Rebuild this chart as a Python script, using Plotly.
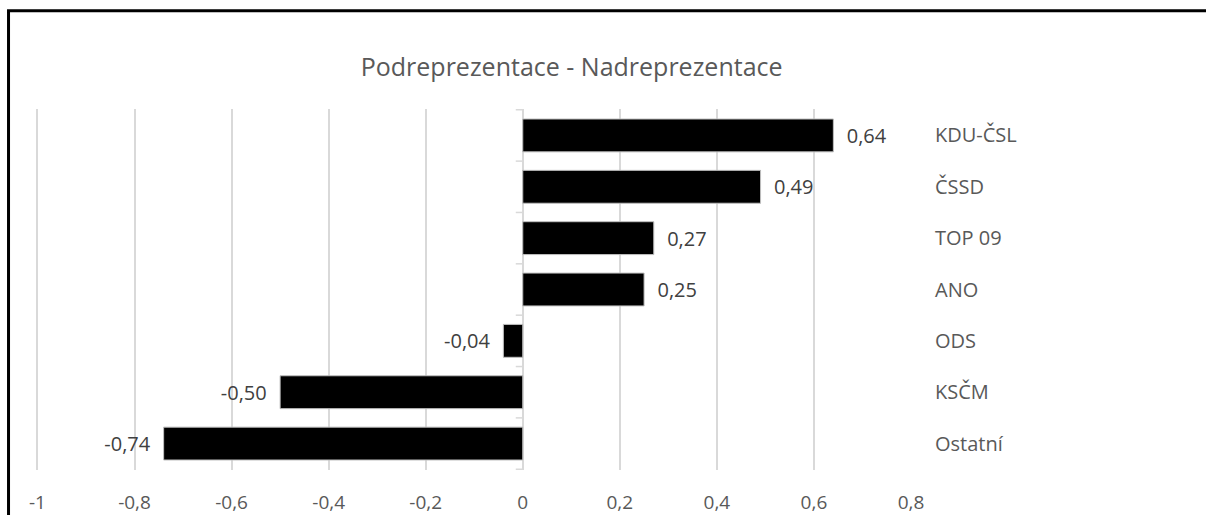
import plotly.graph_objects as go

parties = ['KDU-ČSL', 'ČSSD', 'TOP 09', 'ANO', 'ODS', 'KSČM', 'Ostatní']
values = [0.64, 0.49, 0.27, 0.25, -0.04, -0.50, -0.74]
x_ticks = [-1, -0.8, -0.6, -0.4, -0.2, 0, 0.2, 0.4, 0.6, 0.8]

gray_text = '#595959'
grid = '#d9d9d9'
font = 'Open Sans'

def label(v):
    s = f'{v:.2f}'.replace('.', ',')
    return '  ' + s if v >= 0 else s + '  '

fig = go.Figure()
fig.add_trace(go.Bar(
    x=values,
    y=parties,
    orientation='h',
    marker=dict(color='black', line=dict(color='#bfbfbf', width=1)),
    text=[label(v) for v in values],
    textposition='outside',
    textfont=dict(family=font, size=20, color='#404040'),
    cliponaxis=False,
    hoverinfo='skip',
))

# vertical axis line at 0 with the small category ticks
fig.add_shape(type='line', xref='x', yref='paper', x0=0, x1=0, y0=0, y1=1,
              line=dict(color=grid, width=1.5), layer='below')
for i in range(len(parties) + 1):
    fig.add_shape(type='line', xref='x', yref='y', xsizemode='pixel', xanchor=0,
                  x0=-7, x1=0, y0=i - 0.5, y1=i - 0.5,
                  line=dict(color=grid, width=1.5), layer='below')

# chart frame
fig.add_shape(type='rect', xref='paper', yref='paper',
              x0=-0.0314, x1=1.45, y0=-0.3, y1=1.272,
              line=dict(color='black', width=3), fillcolor='rgba(0,0,0,0)')

fig.update_layout(
    width=1206, height=515,
    margin=dict(l=36, r=295, t=109, b=45),
    plot_bgcolor='white', paper_bgcolor='white',
    separators=', ',
    bargap=0.36,
    showlegend=False,
    title=dict(text='Podreprezentace - Nadreprezentace', x=0.474, xanchor='center',
               y=0.87, yanchor='middle', font=dict(family=font, size=25, color=gray_text)),
    xaxis=dict(
        range=[-1.003, 0.8], tickvals=x_ticks,
        ticktext=[f'{t:g}'.replace('.', ',') for t in x_ticks],
        showgrid=True, gridcolor=grid, gridwidth=1.5, zeroline=False,
        showline=False, ticks='outside', ticklen=15, tickcolor='rgba(0,0,0,0)',
        tickfont=dict(family=font, size=19, color=gray_text), automargin=False,
    ),
    yaxis=dict(
        side='right', autorange='reversed', showgrid=False, zeroline=False,
        showline=False, ticks='outside', ticklen=19, tickcolor='rgba(0,0,0,0)',
        tickfont=dict(family=font, size=20, color=gray_text), automargin=False,
    ),
)

fig.write_html('out.html', config={'displayModeBar': False},
               post_script="document.body.style.margin='0';")
